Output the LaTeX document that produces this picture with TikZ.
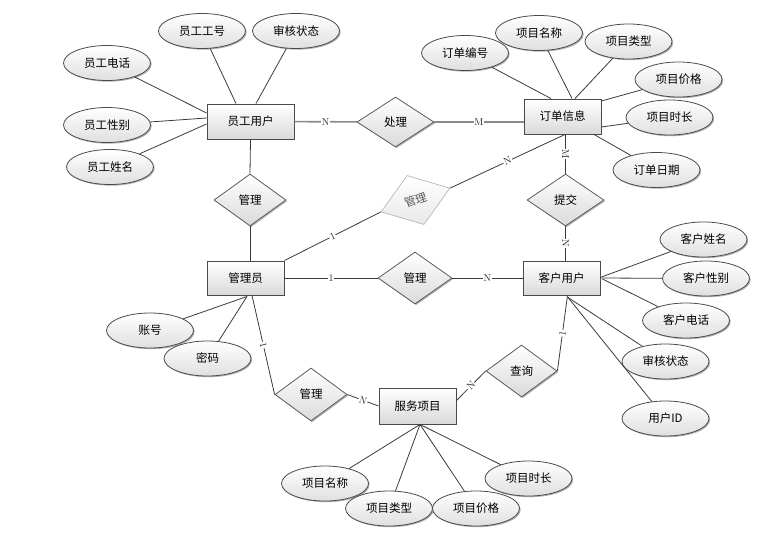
\documentclass[tikz,border=0pt]{standalone}
\usepackage{fontspec}
\newfontfamily\cjk{Noto Sans CJK SC}
\usetikzlibrary{shapes.geometric,shadows,calc}
\definecolor{bd}{HTML}{4A4A4A}
\definecolor{bfill}{HTML}{DADADA}
\definecolor{ln}{HTML}{3A3A3A}
\definecolor{lnthick}{HTML}{8A8A8A}
\definecolor{ghost}{HTML}{B8B8B8}
\begin{document}
\begin{tikzpicture}[x=1pt,y=-1pt,
  every node/.style={font=\cjk\fontsize{11.5}{13}\selectfont},
  shad/.style={drop shadow={shadow xshift=1.2pt,shadow yshift=-1.2pt,opacity=0.3,fill=black}},
  ent/.style={rectangle,draw=bd,line width=0.9pt,top color=white,bottom color=bfill,shad,inner sep=0pt},
  attr/.style={ellipse,draw=bd,line width=0.8pt,top color=white,bottom color=bfill!85,shad,minimum width=87pt,minimum height=35pt,inner sep=0pt},
  rel/.style={diamond,draw=bd!90,line width=0.8pt,top color=white,bottom color=bfill,shad,inner sep=0pt},
  ghostrel/.style={diamond,draw=ghost,line width=0.7pt,top color=white,bottom color=bfill!60,text=black!65,inner sep=0pt},
  con/.style={draw=ln,line width=0.8pt},
  conthick/.style={draw=lnthick,line width=1.6pt},
  lab/.style={fill=white,inner sep=0.8pt,font=\rmfamily\fontsize{10}{11}\selectfont,text=black!85}
]
\useasboundingbox (0,0) rectangle (762,549);

% entities
\node[ent,minimum width=87pt,minimum height=35pt] (emp) at (250.5,121.5) {员工用户};
\node[ent,minimum width=77pt,minimum height=35pt] (order) at (562.5,116.5) {订单信息};
\node[ent,minimum width=77pt,minimum height=34pt] (admin) at (245.5,278) {管理员};
\node[ent,minimum width=77pt,minimum height=34pt] (cust) at (561.5,278) {客户用户};
\node[ent,minimum width=77pt,minimum height=36pt] (svc) at (417.5,406) {服务项目};

% relations
\node[rel,minimum width=77pt,minimum height=50pt] (chuli) at (395.5,122) {处理};
\node[rel,minimum width=72pt,minimum height=52pt] (mg1) at (250,200) {管理};
\node[ghostrel,minimum width=73pt,minimum height=52pt,rotate=19] (mg2) at (415.5,200) {管理};
\node[rel,minimum width=74pt,minimum height=52pt] (mg3) at (415,278) {管理};
\node[rel,minimum width=77pt,minimum height=52pt] (tijiao) at (565.5,200) {提交};
\node[rel,minimum width=71pt,minimum height=52pt] (chaxun) at (521.5,371) {查询};
\node[rel,minimum width=72pt,minimum height=53pt] (mg4) at (311,394.5) {管理};

% attributes of 员工用户
\node[attr] (etel) at (107,63) {员工电话};
\node[attr] (eno) at (202,31) {员工工号};
\node[attr] (eaud) at (296,31) {审核状态};
\node[attr] (egen) at (107,125) {员工性别};
\node[attr] (ename) at (110,167) {员工姓名};

% attributes of 订单信息
\node[attr] (ono) at (465,53) {订单编号};
\node[attr] (opname) at (539,33) {项目名称};
\node[attr] (optype) at (628.5,41.5) {项目类型};
\node[attr] (opprice) at (678.5,79.5) {项目价格};
\node[attr] (optime) at (669.5,117.5) {项目时长};
\node[attr] (odate) at (656.5,170) {订单日期};

% attributes of 客户用户
\node[attr] (cname) at (703.5,239.5) {客户姓名};
\node[attr] (cgen) at (706,278.5) {客户性别};
\node[attr] (ctel) at (686,320.5) {客户电话};
\node[attr] (caud) at (665.5,361.5) {审核状态};
\node[attr] (cid) at (665.5,418.5) {用户ID};

% attributes of 管理员
\node[attr] (acct) at (150,330.5) {账号};
\node[attr] (pwd) at (207.5,358.5) {密码};

% attributes of 服务项目
\node[attr] (sname) at (325,483.5) {项目名称};
\node[attr] (stype) at (389,508.5) {项目类型};
\node[attr] (sprice) at (476,508.5) {项目价格};
\node[attr] (stime) at (528.5,478.5) {项目时长};

% attribute connectors
\draw[con] (etel) -- ($(emp.west)+(0,-8.5)$);
\draw[con] (egen) -- ($(emp.west)+(0,-3.5)$);
\draw[con] (ename) -- ($(emp.west)+(0,2.5)$);
\draw[con] (eno) -- ($(emp.north)+(-14.5,0)$);
\draw[con] (eaud) -- ($(emp.north)+(5.5,0)$);

\draw[con] (ono) -- ($(order.north)+(-11.5,0)$);
\draw[con] (opname) -- ($(order.north)+(9.5,0)$);
\draw[con] (optype) -- ($(order.north)+(12.5,0)$);
\draw[con] (opprice) -- ($(order.east)+(0,-15.5)$);
\draw[con] (optime) -- ($(order.east)+(0,10.5)$);
\draw[con] (odate) -- ($(order.south)+(31.5,0)$);

\draw[con] (cname) -- ($(cust.east)+(1,-1)$);
\draw[con] (cgen) -- (cust.east);
\draw[con] (ctel) -- ($(cust.east)+(2,1)$);
\draw[con] (caud) -- ($(cust.south)+(6.5,2)$);
\draw[con] (cid) -- ($(cust.south)+(6.5,2)$);

\draw[con] (acct) -- ($(admin.south)+(1.5,1)$);
\draw[con] (pwd) -- ($(admin.south)+(1.5,1)$);

\draw[con] (sname) -- ($(svc.south)+(2.5,0)$);
\draw[con] (stype) -- ($(svc.south)+(2.5,0)$);
\draw[con] (sprice) -- ($(svc.south)+(2.5,0)$);
\draw[con] (stime) -- ($(svc.south)+(2.5,0)$);

% relationship connectors
\draw[conthick] (emp) -- (chuli) node[lab,pos=.5] {N};
\draw[conthick] (chuli.east) -- (chuli.east -| order.west) node[lab,pos=.5] {M};
\draw[con] (emp.south) -- (mg1.north);
\draw[con] (mg1.south) -- (mg1.south |- admin.north);

\draw[con] (admin.north east) -- (mg2.west) node[lab,pos=.5,sloped] {1};
\draw[con] (mg2.east) -- ($(order.south)+(2.5,0)$) node[lab,pos=.5,sloped] {N};

\draw[con] (tijiao.north |- order.south) -- (tijiao.north) node[lab,pos=.5,sloped] {M};
\draw[con] (tijiao.south) -- (tijiao.south |- cust.north) node[lab,pos=.5,sloped] {N};

\draw[con] (admin.east) -- (mg3.west) node[lab,pos=.5] {1};
\draw[con] (mg3.east) -- (cust.west) node[lab,pos=.5] {N};

\draw[con] ($(admin.south)+(6.5,0)$) -- (mg4.west) node[lab,pos=.5,sloped] {1};
\draw[con] (mg4.east) -- (svc.west) node[lab,pos=.5,sloped] {N};

\draw[con] ($(cust.south)+(6,0)$) -- (chaxun.east) node[lab,pos=.5,sloped] {1};
\draw[con] (chaxun.west) -- ($(svc.north east)+(0,13)$) node[lab,pos=.5,sloped] {N};
\end{tikzpicture}
\end{document}
